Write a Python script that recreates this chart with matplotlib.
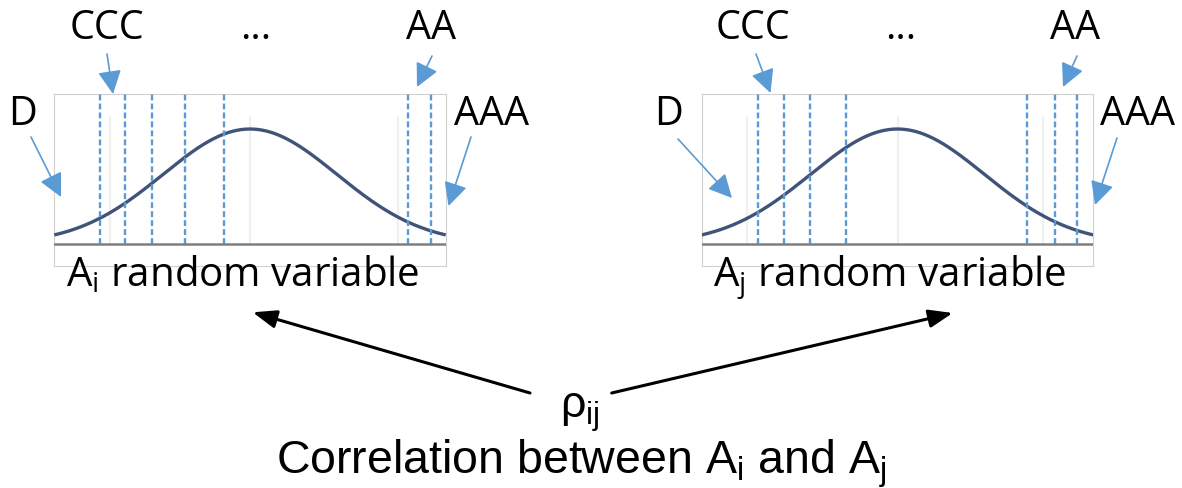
import numpy as np
import matplotlib
matplotlib.use("Agg")
import matplotlib.pyplot as plt
from matplotlib.patches import ArrowStyle

# rating thresholds on the standard normal scale (z units)
thresholds_i = [-1.725, -1.44, -1.132, -0.749, -0.296, 1.824, 2.085]
thresholds_j = [-1.605, -1.31, -1.002, -0.591, 1.486, 1.809, 2.07]
# faint background gridlines (z units)
faint_i = [-1.61, 0.0, 1.705]
faint_j = [-1.73, 0.0, 1.68]
# normal density parameters for each asset
mu_i, sigma_i = 0.0, 1.0
mu_j, sigma_j = 0.0, 1.0
rating_labels = ["D", "CCC", "...", "AA", "AAA"]
panel_labels = ["A$\\mathregular{_i}$ random variable", "A$\\mathregular{_j}$ random variable"]
rho_label = "ρ$\\mathregular{_{ij}}$"
corr_label = "Correlation between A$\\mathregular{_i}$ and A$\\mathregular{_j}$"

W, H = 1182, 489
BLUE = "#5B9BD5"
CURVE = "#3F5478"
LABEL_FONT = "Open Sans"
CORR_FONT = "Liberation Sans"

fig = plt.figure(figsize=(W / 100, H / 100), dpi=100)


def px_axes(x0, y0, x1, y1):
    """Add axes given pixel box (y measured from top)."""
    return fig.add_axes([x0 / W, 1 - y1 / H, (x1 - x0) / W, (y1 - y0) / H])


def draw_panel(ax, mu, sigma, thresholds, faint):
    half = 2.2546
    ax.set_xlim(-half, half)
    ax.set_ylim(-0.0753, 0.5204)
    z = np.linspace(-half, half, 400)
    pdf = np.exp(-0.5 * ((z - mu) / sigma) ** 2) / (sigma * np.sqrt(2 * np.pi))
    for f in faint:
        ax.plot([f, f], [0, 0.44], color="#f0f0f0", lw=1.6, zorder=1)
    ax.plot(z, pdf, color=CURVE, lw=2.4, zorder=3, solid_capstyle="butt")
    for t in thresholds:
        ax.plot([t, t], [0, 0.5204], color=BLUE, lw=1.7,
                linestyle=(0, (2.5, 1.3)), zorder=4)
    ax.axhline(0, color="#7f7f7f", lw=1.8, zorder=5)
    ax.set_xticks([])
    ax.set_yticks([])
    for s in ax.spines.values():
        s.set_color("#d0d0d0")
        s.set_linewidth(0.8)


ax_i = px_axes(54.3, 95, 445.7, 266.7)
draw_panel(ax_i, mu_i, sigma_i, thresholds_i, faint_i)
ax_j = px_axes(701.7, 95, 1093.3, 266.7)
draw_panel(ax_j, mu_j, sigma_j, thresholds_j, faint_j)

# overlay in pixel coordinates for labels and arrows
ov = fig.add_axes([0, 0, 1, 1], zorder=10)
ov.set_xlim(0, W)
ov.set_ylim(H, 0)
ov.axis("off")
ov.patch.set_alpha(0)

blue_style = ArrowStyle("-|>", head_length=1.0, head_width=0.5)
black_style = ArrowStyle("-|>", head_length=1.0, head_width=0.38)


def arrow(tail, tip, style, color, lw, ms):
    ov.annotate("", xy=tip, xytext=tail,
                arrowprops=dict(arrowstyle=style, color=color, lw=lw,
                                shrinkA=0, shrinkB=0, mutation_scale=ms))


# label positions: (x centre, baseline y) per panel
label_pos = [
    {"D": (22, 125), "CCC": (107, 39), "...": (256, 39), "AA": (431, 39), "AAA": (492, 125)},
    {"D": (668, 125), "CCC": (753, 39), "...": (901, 39), "AA": (1075, 39), "AAA": (1137, 125)},
]
label_arrows = [
    {"D": ((31, 138), (61, 198)), "CCC": ((107, 55), (113, 95)),
     "AA": ((432, 57), (417, 88)), "AAA": ((471, 138), (448.5, 207))},
    {"D": ((678, 140), (732, 199)), "CCC": ((756, 55), (770.5, 94)),
     "AA": ((1077, 57), (1063, 88)), "AAA": ((1117, 139), (1095, 206))},
]

for p in range(2):
    for lab in rating_labels:
        x, y = label_pos[p][lab]
        ov.text(x, y, lab, ha="center", va="baseline", fontsize=28.5,
                family=LABEL_FONT, color="black")
        if lab in label_arrows[p]:
            tail, tip = label_arrows[p][lab]
            arrow(tail, tip, blue_style, BLUE, 1.2, 14.4)

ov.text(66, 286, panel_labels[0], ha="left", va="baseline", fontsize=29,
        family=LABEL_FONT, color="black")
ov.text(713, 286, panel_labels[1], ha="left", va="baseline", fontsize=29,
        family=LABEL_FONT, color="black")

# correlation arrows
arrow((530, 394), (252.7, 313.3), black_style, "black", 2.2, 14.4)
arrow((611.7, 394), (952.7, 314), black_style, "black", 2.2, 14.4)

ov.text(560, 418, rho_label, ha="left", va="baseline", fontsize=32,
        family=CORR_FONT, color="black")
ov.text(581, 473, corr_label, ha="center", va="baseline", fontsize=33.5,
        family=CORR_FONT, color="black")

fig.savefig("out.png", dpi=100, facecolor="white")
